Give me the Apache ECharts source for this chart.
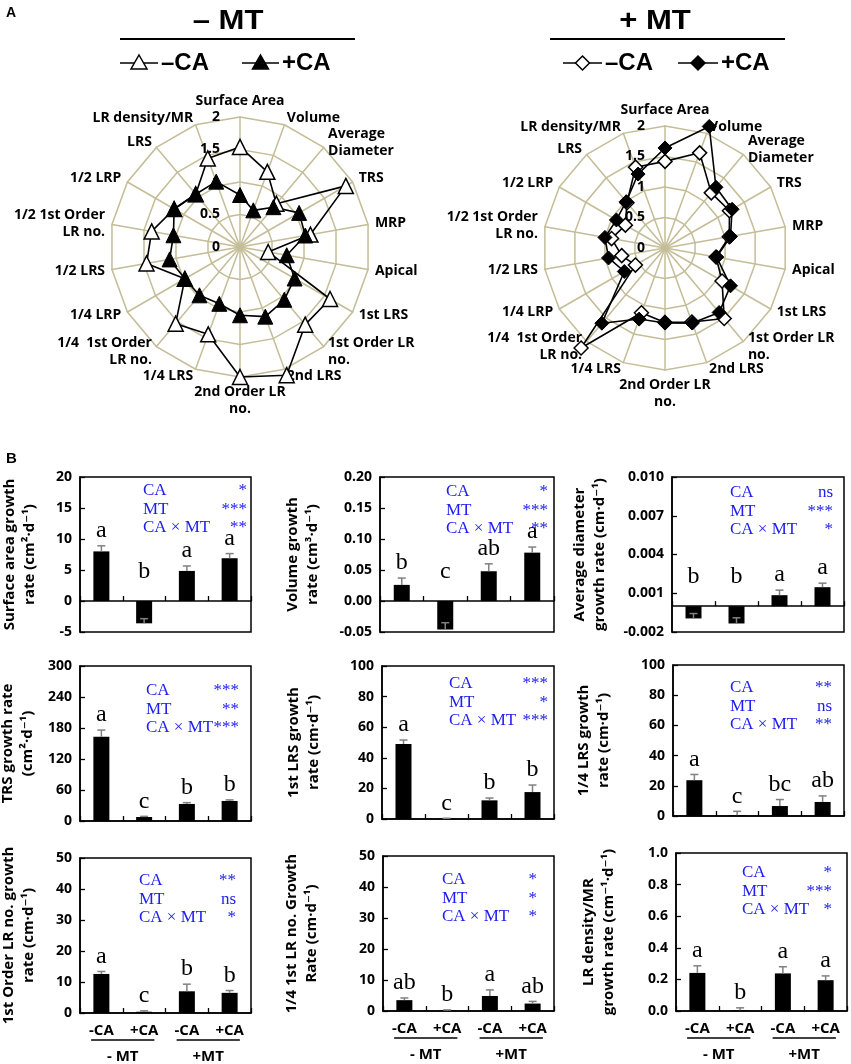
<!DOCTYPE html>
<html>
<head>
<meta charset="utf-8">
<script src="https://cdn.jsdelivr.net/npm/echarts@6/dist/echarts.min.js"></script>
<style>html,body{margin:0;padding:0;background:#fff}#c{width:851px;height:1064px}</style>
</head>
<body>
<div id="c"></div>
<script>
// ---------------- DATA ----------------
const radarIndicatorNames = ['Surface Area', 'Volume', 'Average\nDiameter', 'TRS', 'MRP', 'Apical', '1st LRS',
  '1st Order LR\nno.', '2nd LRS', '2nd Order LR\nno.', '1/4 LRS', '1/4  1st Order\nLR no.', '1/4 LRP',
  '1/2 LRS', '1/2 1st Order\nLR no.', '1/2 LRP', 'LRS', 'LR density/MR'];
const radarTicks = ['0', '0.5', '1', '1.5', '2'];
const minusMT_minusCA = [1.54, 1.23, 0.87, 1.88, 1.10, 0.44, 1.60, 1.56, 2.10, 2.00, 1.43, 1.54, 0.98, 1.46, 1.38, 1.17, 1.06, 1.45];
const minusMT_plusCA  = [0.80, 0.60, 0.80, 1.05, 1.02, 0.73, 0.97, 1.06, 1.14, 1.05, 0.93, 0.97, 0.98, 1.10, 1.04, 1.17, 1.06, 1.07];
const plusMT_minusCA  = [1.42, 1.66, 1.18, 1.22, 1.07, 0.85, 1.08, 1.51, 1.29, 1.22, 1.13, 2.14, 0.56, 0.72, 0.89, 0.75, 0.97, 1.41];
const plusMT_plusCA   = [1.64, 2.12, 1.30, 1.27, 1.09, 0.86, 1.24, 1.38, 1.31, 1.23, 1.24, 1.61, 0.77, 0.94, 1.00, 0.92, 0.99, 1.29];

const barCategories = ['-CA', '+CA', '-CA', '+CA'];
const mtGroups = ['- MT', '+MT'];
const statNames = ['CA', 'MT', 'CA \u00d7 MT'];

const surfaceArea = [8.0, -3.6, 4.85, 6.9];
const surfaceAreaErr = [0.9, 0.75, 0.8, 0.75];
const surfaceAreaLetters = ['a', 'b', 'a', 'a'];
const surfaceAreaStats = ['*', '***', '**'];

const volume = [0.026, -0.046, 0.048, 0.078];
const volumeErr = [0.011, 0.011, 0.012, 0.009];
const volumeLetters = ['b', 'c', 'ab', 'a'];
const volumeStats = ['*', '***', '**'];

const avgDiameter = [-0.00095, -0.00134, 0.00085, 0.00147];
const avgDiameterErr = [0.00038, 0.00044, 0.00039, 0.00031];
const avgDiameterLetters = ['b', 'b', 'a', 'a'];
const avgDiameterStats = ['ns', '***', '*'];

const trs = [163, 7.8, 33, 38.8];
const trsErr = [13, 1.2, 2.5, 2];
const trsLetters = ['a', 'c', 'b', 'b'];
const trsStats = ['***', '**', '***'];

const firstLRS = [49, 0.3, 12.2, 17.6];
const firstLRSErr = [2.6, 0.2, 1.5, 4.6];
const firstLRSLetters = ['a', 'c', 'b', 'b'];
const firstLRSStats = ['***', '*', '***'];

const quarterLRS = [23.7, 0.5, 6.6, 9.3];
const quarterLRSErr = [3.8, 2.6, 4.3, 4.0];
const quarterLRSLetters = ['a', 'c', 'bc', 'ab'];
const quarterLRSStats = ['**', 'ns', '**'];

const firstOrderLRno = [12.6, 0.4, 7.0, 6.5];
const firstOrderLRnoErr = [0.8, 0.3, 2.3, 0.75];
const firstOrderLRnoLetters = ['a', 'c', 'b', 'b'];
const firstOrderLRnoStats = ['**', 'ns', '*'];

const quarterFirstLRno = [3.5, 0.2, 4.85, 2.4];
const quarterFirstLRnoErr = [0.7, 0.15, 1.95, 0.7];
const quarterFirstLRnoLetters = ['ab', 'b', 'a', 'ab'];
const quarterFirstLRnoStats = ['*', '*', '*'];

const lrDensity = [0.241, 0.005, 0.238, 0.195];
const lrDensityErr = [0.045, 0.015, 0.042, 0.027];
const lrDensityLetters = ['a', 'b', 'a', 'a'];
const lrDensityStats = ['*', '***', '*'];

// ---------------- PANEL DEFINITIONS ----------------
const panels = [
  {v: surfaceArea, e: surfaceAreaErr, l: surfaceAreaLetters, s: surfaceAreaStats, min: -5, max: 20, step: 5, dec: 0, name: 'Surface area growth\nrate (cm\u00b2\u00b7d\u207b\u00b9)'},
  {v: volume, e: volumeErr, l: volumeLetters, s: volumeStats, min: -0.05, max: 0.20, step: 0.05, dec: 2, name: 'Volume growth\nrate (cm\u00b3\u00b7d\u207b\u00b9)'},
  {v: avgDiameter, e: avgDiameterErr, l: avgDiameterLetters, s: avgDiameterStats, min: -0.002, max: 0.010, step: 0.003, dec: 3, name: 'Average diameter\ngrowth rate (cm\u00b7d\u207b\u00b9)'},
  {v: trs, e: trsErr, l: trsLetters, s: trsStats, min: 0, max: 300, step: 60, dec: 0, name: 'TRS growth rate\n(cm\u00b2\u00b7d\u207b\u00b9)'},
  {v: firstLRS, e: firstLRSErr, l: firstLRSLetters, s: firstLRSStats, min: 0, max: 100, step: 20, dec: 0, name: '1st LRS growth\nrate (cm\u00b7d\u207b\u00b9)'},
  {v: quarterLRS, e: quarterLRSErr, l: quarterLRSLetters, s: quarterLRSStats, min: 0, max: 100, step: 20, dec: 0, name: '1/4 LRS growth\nrate (cm\u00b7d\u207b\u00b9)'},
  {v: firstOrderLRno, e: firstOrderLRnoErr, l: firstOrderLRnoLetters, s: firstOrderLRnoStats, min: 0, max: 50, step: 10, dec: 0, name: '1st Order LR no. growth\nrate (cm\u00b7d\u207b\u00b9)'},
  {v: quarterFirstLRno, e: quarterFirstLRnoErr, l: quarterFirstLRnoLetters, s: quarterFirstLRnoStats, min: 0, max: 50, step: 10, dec: 0, name: '1/4 1st LR no. Growth\nRate (cm\u00b7d\u207b\u00b9)'},
  {v: lrDensity, e: lrDensityErr, l: lrDensityLetters, s: lrDensityStats, min: 0, max: 1.0, step: 0.2, dec: 1, name: 'LR density/MR\ngrowth rate (cm\u207b\u00b9\u00b7d\u207b\u00b9)'}
];

// layout: [left, top, width, height, nameGap, statDx, statDy, starRight]
const layout = [
  [80, 477, 171, 155, 40, 63, 14, 4],
  [380, 477, 174, 155, 57, 66, 15, 6],
  [672, 477, 172, 155, 62, 58, 16, 11],
  [80, 666, 171, 155, 42, 66, 25, 12],
  [382, 666, 172, 153, 58, 67, 18, 6],
  [673, 665, 171, 151, 59, 57, 23, 12],
  [80, 858, 171, 155, 41, 59, 23, 15],
  [383, 856, 171, 155, 61, 59, 24, 17],
  [676, 853, 171, 158, 57, 66, 20, 15]
];

// ---------------- STYLE ----------------
const SANS = "'Open Sans', 'DejaVu Sans', sans-serif";
const SERIF = "'Liberation Serif', 'DejaVu Serif', serif";
const ARIAL = "'Liberation Sans', Arial, sans-serif";
const TAN = '#C4BD97';
const BLUE = '#2020F0';
const ERRC = '#808080';

const chart = echarts.init(document.getElementById('c'), null, {renderer: 'canvas'});

// radar: ECharts places indicators counter-clockwise; reorder so they go clockwise
const cw = arr => [arr[0]].concat(arr.slice(1).reverse());

function makeRadar(center, radius) {
  const names = cw(radarIndicatorNames);
  return {
    center: center, radius: radius, startAngle: 90, shape: 'polygon', splitNumber: 4,
    indicator: names.map((n, k) => {
      const o = {name: n, min: 0, max: 2};
      if (k === 0) {
        o.axisLabel = {show: true, color: '#000', fontWeight: 'bold', fontSize: 14, fontFamily: SANS,
          margin: 10, padding: [0, 10, 0, 0], formatter: (val) => radarTicks[Math.round(val * 2)] || ''};
      }
      return o;
    }),
    axisName: {color: '#000', fontWeight: 'bold', fontSize: 14, fontFamily: SANS, lineHeight: 17},
    nameGap: 7,
    splitLine: {lineStyle: {color: TAN, width: 1.5}},
    splitArea: {show: false},
    axisLine: {lineStyle: {color: TAN, width: 1.5}},
    axisTick: {show: false},
    axisLabel: {show: false}
  };
}

const option = {
  backgroundColor: '#fff',
  animation: false,
  radar: [makeRadar([240, 247], 130), makeRadar([665, 248], 122)],
  grid: layout.map(b => ({left: b[0], top: b[1], width: b[2], height: b[3], show: true,
    borderColor: '#000', borderWidth: 1.5, backgroundColor: 'transparent', containLabel: false, outerBoundsMode: 'none'})),
  xAxis: [], yAxis: [], series: [], graphic: []
};

// radar series
const openItem = {color: '#fff', borderColor: '#000', borderWidth: 1.5};
const fillItem = {color: '#000', borderColor: '#000', borderWidth: 1};
option.series.push({
  type: 'radar', radarIndex: 0, symbol: 'triangle', symbolSize: 15, z: 5, silent: true,
  lineStyle: {color: '#000', width: 1.6},
  data: [
    {name: '\u2013CA', value: cw(minusMT_minusCA), itemStyle: openItem, lineStyle: {color: '#000', width: 1.6}},
    {name: '+CA', value: cw(minusMT_plusCA), itemStyle: fillItem, lineStyle: {color: '#000', width: 1.6}}
  ]
});
option.series.push({
  type: 'radar', radarIndex: 1, symbol: 'diamond', symbolSize: [14, 14], z: 5, silent: true,
  lineStyle: {color: '#000', width: 1.6},
  data: [
    {name: '\u2013CA ', value: cw(plusMT_minusCA), itemStyle: openItem, lineStyle: {color: '#000', width: 1.6}},
    {name: '+CA ', value: cw(plusMT_plusCA), itemStyle: fillItem, lineStyle: {color: '#000', width: 1.6}}
  ]
});

// bar panels
panels.forEach((p, i) => {
  const b = layout[i];
  const bottomRow = i >= 6;
  option.xAxis.push({
    type: 'category', gridIndex: i, data: barCategories,
    axisLine: {onZero: true, lineStyle: {color: '#000', width: 1.5}},
    axisTick: {show: true, inside: true, length: 5, lineStyle: {color: '#000', width: 1.3}},
    axisLabel: {show: bottomRow, margin: 10, color: '#000', fontWeight: 'bold', fontSize: 15, fontFamily: SANS},
    splitLine: {show: false}
  });
  option.yAxis.push({
    type: 'value', gridIndex: i, min: p.min, max: p.max, interval: p.step,
    axisLine: {show: true, onZero: false, lineStyle: {color: '#000', width: 1.5}},
    axisTick: {show: true, inside: true, length: 5, lineStyle: {color: '#000', width: 1.3}},
    axisLabel: {color: '#000', fontWeight: 'bold', fontSize: 14, fontFamily: SANS, margin: 8,
      formatter: v => (Math.abs(v) < 1e-12 ? 0 : v).toFixed(p.dec)},
    splitLine: {show: false},
    name: p.name, nameLocation: 'middle', nameGap: b[4], nameRotate: 90,
    nameTextStyle: {color: '#000', fontWeight: 'bold', fontSize: 15, fontFamily: SANS, lineHeight: 20, align: 'center'}
  });
  option.series.push({
    type: 'bar', xAxisIndex: i, yAxisIndex: i, data: p.v, barWidth: 16, silent: true,
    itemStyle: {color: '#000'}, z: 2
  });
  option.series.push({
    type: 'custom', xAxisIndex: i, yAxisIndex: i, silent: true, z: 4,
    data: p.v.map((v, k) => [k, v, p.e[k]]),
    renderItem: function (params, api) {
      const k = api.value(0), v = api.value(1), e = api.value(2);
      const p0 = api.coord([k, v]);
      const p1 = api.coord([k, v + e]);
      const z0 = api.coord([k, 0]);
      const cap = 4;
      let ly;
      if (v >= 0) ly = p1[1] - 3; else ly = z0[1] - 17;
      return {
        type: 'group',
        children: [
          {type: 'line', shape: {x1: p0[0], y1: p0[1], x2: p1[0], y2: p1[1]}, style: {stroke: ERRC, lineWidth: 1.5}},
          {type: 'line', shape: {x1: p1[0] - cap, y1: p1[1], x2: p1[0] + cap, y2: p1[1]}, style: {stroke: ERRC, lineWidth: 1.5}},
          {type: 'text', style: {text: p.l[k], x: p1[0], y: ly, align: 'center', verticalAlign: 'bottom',
            font: '24px ' + SERIF, fill: '#000'}}
        ]
      };
    }
  });
  // statistics box
  statNames.forEach((nm, r) => {
    const y = b[1] + b[6] + r * 18.5;
    option.graphic.push({type: 'text', silent: true, x: b[0] + b[5], y: y,
      style: {text: nm, fill: BLUE, font: '17px ' + SERIF, align: 'left', verticalAlign: 'middle'}});
    option.graphic.push({type: 'text', silent: true, x: b[0] + b[2] - b[7], y: y,
      style: {text: p.s[r], fill: BLUE, font: '17px ' + SERIF, align: 'right', verticalAlign: 'middle'}});
  });
});

// second x axis (MT groups) for bottom row
[6, 7, 8].forEach(i => {
  option.xAxis.push({
    type: 'category', gridIndex: i, data: mtGroups, position: 'bottom', offset: 30,
    axisLine: {show: false, onZero: false}, axisTick: {show: false}, splitLine: {show: false},
    axisLabel: {color: '#000', fontWeight: 'bold', fontSize: 15, fontFamily: SANS, margin: 6}
  });
  const b = layout[i];
  [0, 1].forEach(g => {
    const cx = b[0] + b[2] * (0.25 + 0.5 * g);
    const hw = b[2] * 0.185;
    option.graphic.push({type: 'line', silent: true,
      shape: {x1: cx - hw, y1: b[1] + b[3] + 27, x2: cx + hw, y2: b[1] + b[3] + 27},
      style: {stroke: '#000', lineWidth: 1.3}});
  });
});

// panel letters
option.graphic.push({type: 'text', x: 6, y: 6, style: {text: 'A', font: 'bold 14px ' + ARIAL, fill: '#000'}});
option.graphic.push({type: 'text', x: 6, y: 451, style: {text: 'B', font: 'bold 15px ' + ARIAL, fill: '#000'}});

// radar titles and legends
function radarHeader(cx, title, lineX1, lineX2, items) {
  option.graphic.push({type: 'text', x: cx, y: 22, scaleX: 1.15,
    style: {text: title, font: 'bold 27px ' + ARIAL, fill: '#000', align: 'center', verticalAlign: 'middle'}});
  option.graphic.push({type: 'line', shape: {x1: lineX1, y1: 39, x2: lineX2, y2: 39}, style: {stroke: '#000', lineWidth: 2}});
  items.forEach(it => {
    const y = 63;
    option.graphic.push({type: 'line', shape: {x1: it.x1, y1: y, x2: it.x2, y2: y}, style: {stroke: '#000', lineWidth: 1.6}});
    const mx = (it.x1 + it.x2) / 2;
    let pts;
    if (it.shape === 'triangle') pts = [[mx, y - 8], [mx + 8, y + 6], [mx - 8, y + 6]];
    else pts = [[mx, y - 7], [mx + 7, y], [mx, y + 7], [mx - 7, y]];
    option.graphic.push({type: 'polygon', shape: {points: pts},
      style: {fill: it.filled ? '#000' : '#fff', stroke: '#000', lineWidth: 1.5}});
    option.graphic.push({type: 'text', x: it.x2 + 3, y: y,
      style: {text: it.label, font: 'bold 24px ' + ARIAL, fill: '#000', align: 'left', verticalAlign: 'middle'}});
  });
}
radarHeader(228, '\u2013 MT', 120, 355, [
  {x1: 120, x2: 158, shape: 'triangle', filled: false, label: '\u2013CA'},
  {x1: 242, x2: 279, shape: 'triangle', filled: true, label: '+CA'}
]);
radarHeader(655, '+ MT', 550, 785, [
  {x1: 563, x2: 602, shape: 'diamond', filled: false, label: '\u2013CA'},
  {x1: 678, x2: 718, shape: 'diamond', filled: true, label: '+CA'}
]);

chart.setOption(option);
</script>
</body>
</html>
